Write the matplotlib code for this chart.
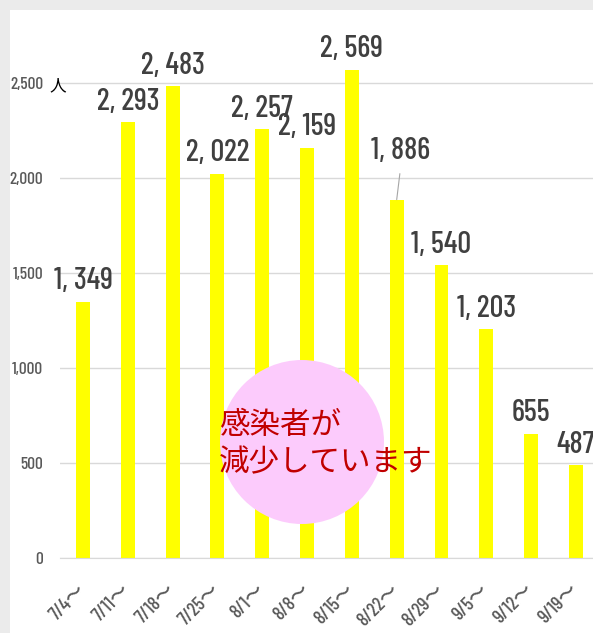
import matplotlib
matplotlib.use("Agg")
import matplotlib.pyplot as plt
from matplotlib.patches import Circle, Rectangle
from matplotlib.transforms import IdentityTransform

categories = ["7/4～", "7/11～", "7/18～", "7/25～", "8/1～", "8/8～", "8/15～",
              "8/22～", "8/29～", "9/5～", "9/12～", "9/19～"]
values = [1349, 2293, 2483, 2022, 2257, 2159, 2569, 1886, 1540, 1203, 655, 487]
yticks = [0, 500, 1000, 1500, 2000, 2500]
ytick_labels = ["0", "500", "1,000", "1,500", "2,000", "2,500"]

numfont = ["Barlow Condensed", "Noto Sans CJK JP", "DejaVu Sans"]
jpfont = ["Noto Sans CJK JP", "DejaVu Sans"]

W, H = 593, 633
fig = plt.figure(figsize=(W / 100, H / 100), dpi=100)
fig.patch.set_facecolor("#ebebeb")
fig.patches.append(Rectangle((10 / W, 0), 1, (H - 10) / H, transform=fig.transFigure,
                             facecolor="white", edgecolor="none", zorder=-10))

ax = fig.add_axes([60 / W, 75 / H, (W - 60) / W, (558 - 10) / H])
ax.set_facecolor("none")
x = list(range(len(values)))
ax.bar(x, values, width=0.31, color="#ffff00", zorder=2)
ax.set_xlim(-0.513, 11.38)
ax.set_ylim(0, 2884)
ax.set_yticks(yticks)
ax.set_yticklabels(ytick_labels, fontfamily=numfont, fontsize=12.5, color="#595959",
                   fontweight=500)
ax.yaxis.grid(True, color="#d9d9d9", linewidth=1, zorder=0)
ax.set_axisbelow(True)
ax.tick_params(axis="y", length=0, pad=12)
ax.set_xticks(x)
ax.set_xticklabels(categories, rotation=45, ha="right", va="center",
                   rotation_mode="anchor",
                   fontfamily=numfont, fontsize=14, color="#595959", fontweight=500)
ax.tick_params(axis="x", length=0, pad=21)
for s in ["top", "right", "left"]:
    ax.spines[s].set_visible(False)
ax.spines["bottom"].set_color("#d9d9d9")

for i, v in enumerate(values):
    label = f"{v:,}".replace(",", ", ")
    if i == 7:
        ax.annotate(label, xy=(i, v), xytext=(3, 29), textcoords="offset points",
                    ha="center", va="baseline", fontfamily=numfont, fontsize=22,
                    color="#404040", fontweight=500,
                    arrowprops=dict(arrowstyle="-", color="#a6a6a6", lw=0.8,
                                    shrinkA=4, shrinkB=0,
                                    relpos=(0.5, 0)))
    else:
        ax.annotate(label, xy=(i, v), xytext=(0, 9), textcoords="offset points",
                    ha="center", va="baseline", fontfamily=numfont, fontsize=22,
                    color="#404040", fontweight=500)

fig.text(49 / W, (H - 86) / H, "人", fontfamily=jpfont, fontsize=12, color="black",
         ha="left", va="center")

circ = Circle((302, H - 442), 82, transform=IdentityTransform(),
              facecolor="#fccbfc", edgecolor="none", zorder=5)
fig.patches.append(circ)
fig.text(219 / W, (H - 425) / H, "感染者が", fontfamily=jpfont, fontsize=22,
         color="#c00000", ha="left", va="center", zorder=6)
fig.text(219 / W, (H - 463) / H, "減少しています", fontfamily=jpfont, fontsize=22,
         color="#c00000", ha="left", va="center", zorder=6)

fig.savefig("out.png", dpi=100, facecolor=fig.get_facecolor())
